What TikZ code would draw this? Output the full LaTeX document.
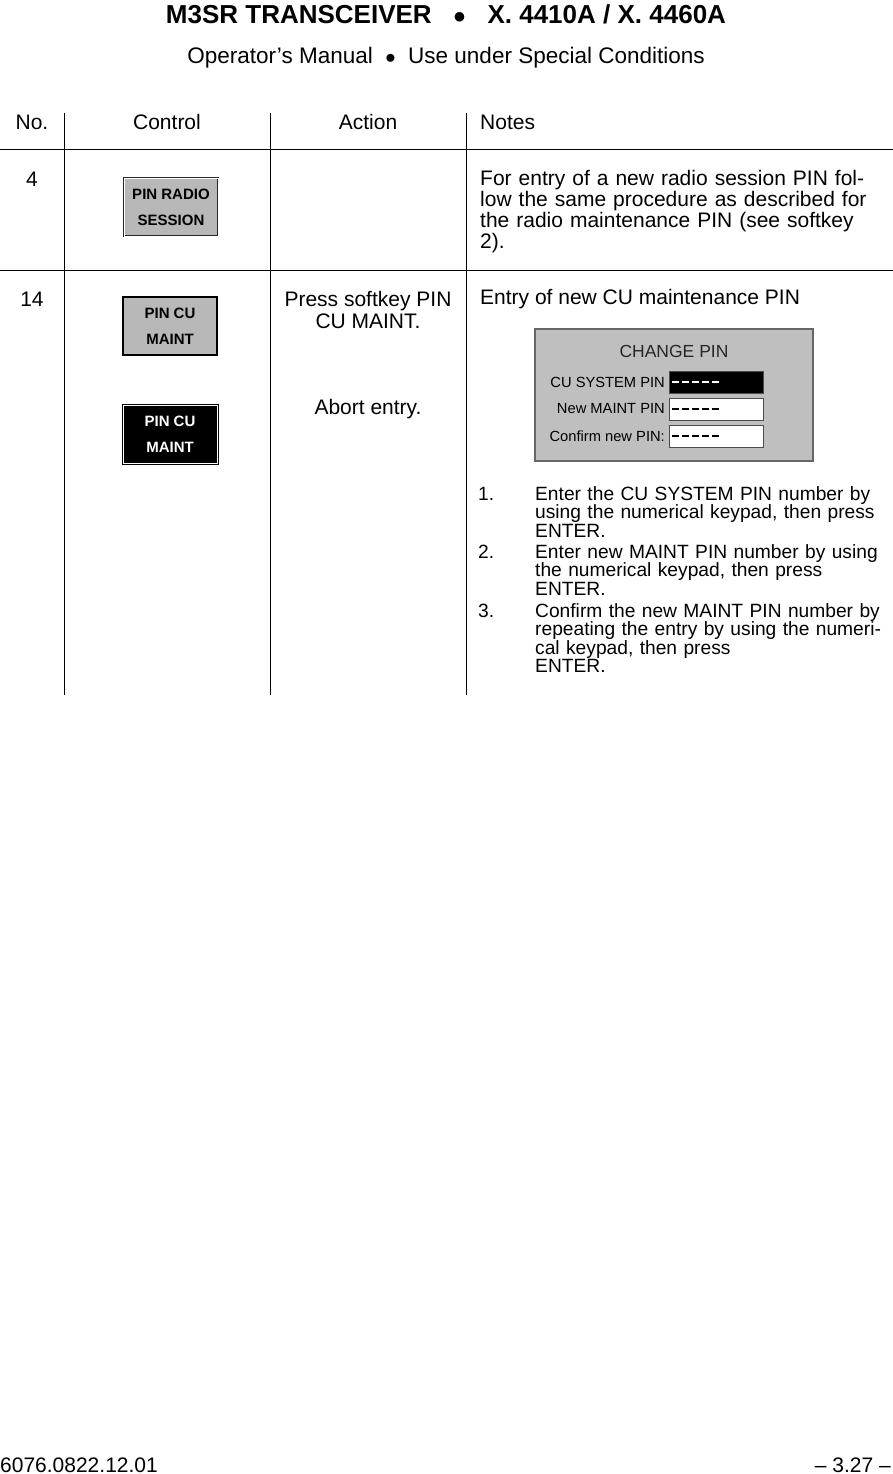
\documentclass[tikz,border=0pt]{standalone}
\usepackage{fontspec}
\setmainfont{Liberation Sans}
\newcommand{\ind}{\hspace*{57pt}}
\newcommand{\num}[1]{\makebox[57pt][l]{#1}}
\begin{document}
\begin{tikzpicture}[x=1pt,y=-1pt,
  txt/.style={font=\fontsize{21}{21}\selectfont,inner sep=0pt},
  note/.style={font=\fontsize{19.2}{18.5}\selectfont,inner sep=0pt,align=left,anchor=north west,text width=420pt},
  btn/.style={draw=black,line width=1.2pt,minimum width=94pt,minimum height=58pt,font=\fontsize{15}{26}\selectfont\bfseries,align=center,inner sep=0pt},
  fld/.style={draw=black!70,line width=0.8pt,minimum width=94pt,minimum height=22pt,inner sep=0pt,anchor=west}]
\useasboundingbox (0,0) rectangle (893,1474);
\node[font=\fontsize{26}{28}\selectfont\bfseries,inner sep=0pt] (title) at (446,14) {M3SR TRANSCEIVER \ \ $\bullet$ \ \ X. 4410A / X. 4460A};
\node[txt,font=\fontsize{22.5}{23}\selectfont] (sub) at (446,58) {Operator’s Manual \ $\bullet$ \ Use under Special Conditions};
\node[txt] (hno) at (32,122) {No.};
\node[txt] (hct) at (167,122) {Control};
\node[txt] (hac) at (368,122) {Action};
\node[txt,anchor=west] (hnt) at (480,122) {Notes};
\draw[line width=0.6pt] (64,113) -- (64,695) (270,113) -- (270,695) (466,113) -- (466,695);
\draw[line width=0.6pt] (0,149) -- (893,149) (0,270) -- (893,270);
% row 4
\node[txt] (n4) at (32,179) {4};
\node[btn,fill=black!28,draw=black!85,double=white,double distance=0.5pt] (b1) at (171,207) {PIN RADIO\\SESSION};
\node[txt,anchor=north west,align=left,text width=420pt,font=\fontsize{21}{21}\selectfont] (t4) at (480,170) {For entry of a new radio session PIN fol-\\low the same procedure as described for\\the radio maintenance PIN (see softkey\\2).};
% row 14
\node[txt] (n14) at (32,299) {14};
\node[btn,fill=black!28] (b2) at (170,326) {PIN CU\\MAINT};
\node[btn,fill=black,text=white,draw=black,double=white,double distance=0.6pt] (b3) at (170,434) {PIN CU\\MAINT};
\node[txt,align=center,font=\fontsize{21}{22}\selectfont,anchor=north] (a1) at (368,291) {Press softkey PIN\\CU MAINT.};
\node[txt] (a2) at (368,409) {Abort entry.};
\node[txt,anchor=west] (t14) at (480,299) {Entry of new CU maintenance PIN};
% change pin panel
\node[draw=black!60,line width=1.5pt,fill=black!25,minimum width=278pt,minimum height=132pt,inner sep=0pt] (panel) at (674,395) {};
\node[font=\fontsize{17.5}{18}\selectfont,inner sep=0pt,text=black!85] (cp) at (674,351) {CHANGE PIN};
\node[fld,fill=black] (f1) at (669,382) {};
\node[fld,fill=white] (f2) at (669,409) {};
\node[fld,fill=white] (f3) at (669,436) {};
\draw[white,line width=1.6pt,dash pattern=on 7pt off 3pt] ([xshift=3pt]f1.west) -- ++(50,0);
\draw[black,line width=1.6pt,dash pattern=on 7pt off 3pt] ([xshift=3pt]f2.west) -- ++(50,0);
\draw[black,line width=1.6pt,dash pattern=on 7pt off 3pt] ([xshift=3pt]f3.west) -- ++(50,0);
\node[font=\fontsize{14.7}{15}\selectfont,inner sep=0pt,anchor=east] (l1) at (665,382) {CU SYSTEM PIN};
\node[font=\fontsize{14.7}{15}\selectfont,inner sep=0pt,anchor=east] (l2) at (665,409) {New MAINT PIN};
\node[font=\fontsize{14.7}{15}\selectfont,inner sep=0pt,anchor=east] (l3) at (665,436) {Confirm new PIN:};
% steps
\node[note] (s1) at (478,486) {\num{1.}Enter the CU SYSTEM PIN number by\\\ind using the numerical keypad, then press\\\ind ENTER.};
\node[note] (s2) at (478,544) {\num{2.}Enter new MAINT PIN number by using\\\ind the numerical keypad, then press\\\ind ENTER.};
\node[note] (s3) at (478,603) {\num{3.}Confirm the new MAINT PIN number by\\\ind repeating the entry by using the numeri-\\\ind cal keypad, then press\\\ind ENTER.};
% footer
\node[txt] (f) at (79,1465) {6076.0822.12.01};
\node[txt,anchor=east] (p) at (891,1465) {– 3.27 –};
\end{tikzpicture}
\end{document}
